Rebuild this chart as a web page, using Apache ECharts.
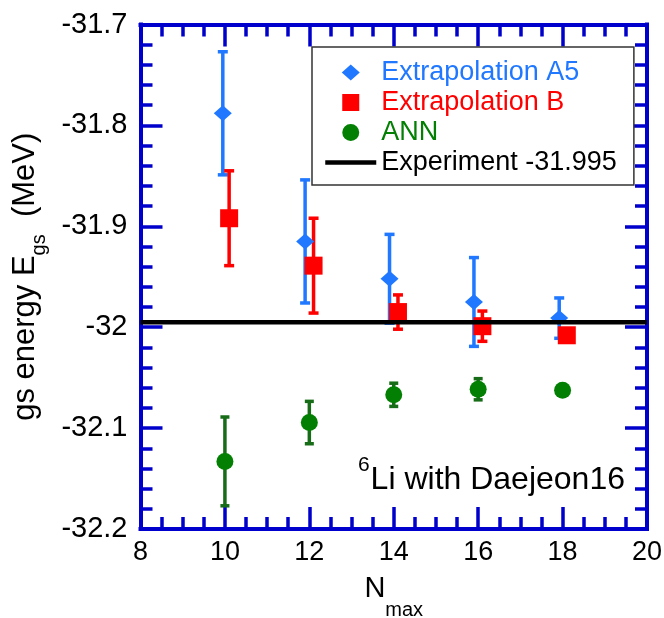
<!DOCTYPE html>
<html>
<head>
<meta charset="utf-8">
<script src="https://cdn.jsdelivr.net/npm/echarts@6/dist/echarts.min.js"></script>
<style>
html, body { margin: 0; padding: 0; background: #ffffff; }
#chart { width: 664px; height: 618px; }
</style>
</head>
<body>
<div id="chart"></div>
<script>
// Extrapolation A5 (markers sit slightly left of the Nmax value)
const nmaxA5 = [9.95, 11.9, 13.9, 15.9, 17.92]
const energyA5 = [-31.788, -31.915, -31.952, -31.975, -31.991]
const errA5 = [0.061, 0.061, 0.044, 0.044, 0.020]

// Extrapolation B (slightly right)
const nmaxB = [10.1, 12.1, 14.1, 16.1, 18.1]
const energyB = [-31.892, -31.939, -31.985, -31.999, -32.008]
const errB = [0.047, 0.047, 0.017, 0.015, 0.004]

// ANN
const nmaxANN = [10, 12, 14, 16, 18]
const energyANN = [-32.133, -32.0945, -32.067, -32.0615, -32.0625]
const errANN = [0.044, 0.021, 0.0115, 0.0105, 0.003]

// experiment
const expRange = [8, 20]
const expEnergy = -31.995

const xTicks = ['8', '10', '12', '14', '16', '18', '20']
const yTicks = ['-32.2', '-32.1', '-32', '-31.9', '-31.8', '-31.7']

const FONT = '"Liberation Sans", Arial, sans-serif'
const AXIS_BLUE = '#0000cc'
const BLUE = '#1f78ff'
const RED = '#ff0000'
const GREEN = '#038003'
const GREEN_BAR = '#176c17'

// legend icons: shape in the middle of a 51x17 box (tiny corner specks fix the box size)
const BOX = 'M0,0L0.01,0L0.01,0.01Z M50.99,16.99L51,16.99L51,17Z '
const ICON_DIAMOND = 'path://' + BOX + 'M25.5,0.5L34.5,8.5L25.5,16.5L16.5,8.5Z'
const ICON_SQUARE = 'path://' + BOX + 'M17,0L34,0L34,17L17,17Z'
const ICON_CIRCLE = 'path://' + BOX + 'M17,8.5A8.5,8.5 0 1,0 34,8.5A8.5,8.5 0 1,0 17,8.5Z'

function tickLabel (list) {
  return function (v) {
    const hit = list.find(t => Math.abs(parseFloat(t) - v) < 1e-6)
    return hit === undefined ? '' : hit
  }
}

function errorBars (name, xs, ys, errs, color, width, capW) {
  return {
    name: name,
    type: 'custom',
    silent: true,
    data: xs.map((x, i) => [x, ys[i] - errs[i], ys[i] + errs[i]]),
    encode: { x: 0, y: [1, 2] },
    renderItem: function (params, api) {
      const lo = api.coord([api.value(0), api.value(1)])
      const hi = api.coord([api.value(0), api.value(2)])
      const style = { stroke: color, lineWidth: width }
      return {
        type: 'group',
        children: [
          { type: 'line', shape: { x1: lo[0], y1: lo[1], x2: hi[0], y2: hi[1] }, style: style },
          { type: 'line', shape: { x1: lo[0] - capW / 2, y1: lo[1], x2: lo[0] + capW / 2, y2: lo[1] }, style: style },
          { type: 'line', shape: { x1: hi[0] - capW / 2, y1: hi[1], x2: hi[0] + capW / 2, y2: hi[1] }, style: style }
        ]
      }
    }
  }
}

function axisBase (extra) {
  return Object.assign({
    type: 'value',
    splitLine: { show: false },
    nameMoveOverlap: false,
    axisLine: { show: true, onZero: false, lineStyle: { color: AXIS_BLUE, width: 4, cap: 'square' } },
    axisTick: { show: true, inside: true, length: 22, lineStyle: { color: AXIS_BLUE, width: 3.5 } }
  }, extra)
}

const chart = echarts.init(document.getElementById('chart'))

const option = {
  animation: false,
  backgroundColor: '#ffffff',
  grid: {
    left: 140.5,
    right: 17,
    top: 24.5,
    bottom: 89,
    containLabel: false,
    outerBoundsMode: 'none'
  },
  xAxis: [
    axisBase({
      position: 'bottom',
      min: 8,
      max: 20,
      interval: 2,
      minorTick: { show: true, splitNumber: 4, length: 12, lineStyle: { color: AXIS_BLUE, width: 3.5 } },
      axisLabel: { color: '#000', fontSize: 27, fontFamily: FONT, margin: 10, formatter: tickLabel(xTicks) },
      name: '{a|N}{s|max}',
      nameLocation: 'middle',
      nameGap: 45,
      nameTextStyle: {
        color: '#000',
        rich: {
          a: { fontSize: 29, fontFamily: FONT, lineHeight: 29, color: '#000' },
          s: { fontSize: 20, fontFamily: FONT, lineHeight: 20, color: '#000', padding: [44, 0, 0, 0] }
        }
      }
    }),
    axisBase({
      position: 'top',
      min: 8,
      max: 20,
      interval: 2,
      minorTick: { show: true, splitNumber: 4, length: 12, lineStyle: { color: AXIS_BLUE, width: 3.5 } },
      axisLabel: { show: false }
    })
  ],
  yAxis: [
    axisBase({
      position: 'left',
      min: -32.2,
      max: -31.7,
      interval: 0.1,
      minorTick: { show: true, splitNumber: 5, length: 12, lineStyle: { color: AXIS_BLUE, width: 3.5 } },
      axisLabel: { color: '#000', fontSize: 29, fontFamily: FONT, margin: 13, formatter: tickLabel(yTicks) },
      name: '{a|gs energy E}{s|gs}{a|  (MeV)}',
      nameLocation: 'middle',
      nameRotate: 90,
      nameGap: 100,
      nameTextStyle: {
        color: '#000',
        rich: {
          a: { fontSize: 31, fontFamily: FONT, lineHeight: 31, color: '#000' },
          s: { fontSize: 20, fontFamily: FONT, lineHeight: 20, color: '#000', padding: [28, 0, 0, 0] }
        }
      }
    }),
    axisBase({
      position: 'right',
      min: -32.2,
      max: -31.7,
      interval: 0.1,
      minorTick: { show: true, splitNumber: 5, length: 12, lineStyle: { color: AXIS_BLUE, width: 3.5 } },
      axisLabel: { show: false }
    })
  ],
  legend: {
    orient: 'vertical',
    left: 312,
    top: 47,
    selectedMode: false,
    itemWidth: 51,
    itemHeight: 17,
    itemGap: 3,
    padding: [12, 17, 9, 11],
    borderColor: '#333',
    borderWidth: 1.5,
    backgroundColor: '#ffffff',
    textStyle: { fontSize: 27, fontFamily: FONT, lineHeight: 26 },
    data: [
      { name: 'Extrapolation A5', icon: ICON_DIAMOND, itemStyle: { color: BLUE, borderWidth: 0 }, textStyle: { color: BLUE } },
      { name: 'Extrapolation B', icon: ICON_SQUARE, itemStyle: { color: RED, borderWidth: 0 }, textStyle: { color: RED } },
      { name: 'ANN', icon: ICON_CIRCLE, itemStyle: { color: GREEN, borderWidth: 0 }, textStyle: { color: GREEN } },
      {
        name: 'Experiment -31.995',
        itemStyle: { color: 'rgba(0,0,0,0)', borderWidth: 0 },
        lineStyle: { color: '#000', width: 4.5 },
        textStyle: { color: '#000' }
      }
    ]
  },
  graphic: [
    {
      type: 'text',
      right: 39,
      top: 455,
      style: {
        text: '{sup|6}{m|Li with Daejeon16}',
        fill: '#000',
        rich: {
          sup: { fontSize: 21, fontFamily: FONT, lineHeight: 21, fill: '#000', padding: [0, 1, 30, 0] },
          m: { fontSize: 32, fontFamily: FONT, lineHeight: 32, fill: '#000' }
        }
      }
    }
  ],
  series: [
    {
      name: 'Experiment -31.995',
      type: 'line',
      symbol: 'none',
      silent: true,
      data: expRange.map(x => [x, expEnergy]),
      lineStyle: { color: '#000', width: 4.5 },
      itemStyle: { color: '#000' }
    },
    errorBars('A5 error', nmaxA5, energyA5, errA5, BLUE, 3.5, 10),
    {
      name: 'Extrapolation A5',
      type: 'scatter',
      symbol: 'diamond',
      symbolSize: [18, 16],
      data: nmaxA5.map((x, i) => [x, energyA5[i]]),
      itemStyle: { color: BLUE, opacity: 1 }
    },
    errorBars('B error', nmaxB, energyB, errB, RED, 3.5, 10),
    {
      name: 'Extrapolation B',
      type: 'scatter',
      symbol: 'rect',
      symbolSize: 18,
      data: nmaxB.map((x, i) => [x, energyB[i]]),
      itemStyle: { color: RED, opacity: 1 }
    },
    errorBars('ANN error', nmaxANN, energyANN, errANN, GREEN_BAR, 3.5, 9),
    {
      name: 'ANN',
      type: 'scatter',
      symbol: 'circle',
      symbolSize: 17,
      data: nmaxANN.map((x, i) => [x, energyANN[i]]),
      itemStyle: { color: GREEN, opacity: 1 }
    }
  ]
}

chart.setOption(option)
</script>
</body>
</html>
